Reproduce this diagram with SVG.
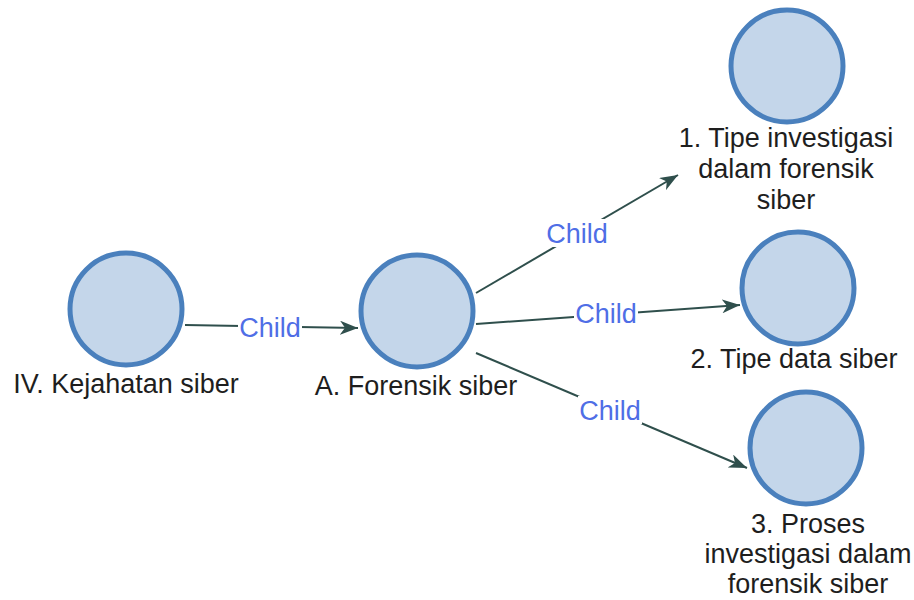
<svg xmlns="http://www.w3.org/2000/svg" width="914" height="600" viewBox="0 0 914 600">
  <style>
    .node circle { fill: #c4d6ea; stroke: #4a80bd; stroke-width: 5; }
    .node text { font-family: "Liberation Sans", Arial, sans-serif; font-size: 27px; fill: #1e1e1e; text-anchor: middle; }
    .edge line { stroke: #2f4f4c; stroke-width: 2; marker-end: url(#arrow); }
    .edge rect { fill: #fff; }
    .edge text { font-family: "Liberation Sans", Arial, sans-serif; font-size: 27px; fill: #4f6ee6; text-anchor: middle; }
  </style>
  <defs>
    <marker id="arrow" viewBox="0 0 18 14" refX="18" refY="7" markerWidth="18" markerHeight="14" markerUnits="userSpaceOnUse" orient="auto">
      <path d="M0,0 L18,7 L0,14 L5,7 z" fill="#2f4f4c"/>
    </marker>
  </defs>
  <rect width="914" height="600" fill="#fff"/>

  <g id="connectors">
    <g class="edge">
      <line x1="185" y1="325" x2="358" y2="328"/>
      <rect x="238" y="313" width="64" height="28"/>
      <text x="270" y="337">Child</text>
    </g>
    <g class="edge">
      <line x1="476" y1="293" x2="678" y2="175"/>
      <rect x="545" y="219" width="64" height="28"/>
      <text x="577" y="243">Child</text>
    </g>
    <g class="edge">
      <line x1="476" y1="324" x2="740" y2="305"/>
      <rect x="574" y="299" width="64" height="28"/>
      <text x="606" y="323">Child</text>
    </g>
    <g class="edge">
      <line x1="476" y1="353" x2="747" y2="468"/>
      <rect x="578" y="396" width="64" height="28"/>
      <text x="610" y="420">Child</text>
    </g>
  </g>

  <g id="node-iv" class="node">
    <circle cx="126" cy="309" r="56"/>
    <text x="126" y="393">IV. Kejahatan siber</text>
  </g>
  <g id="node-a" class="node">
    <circle cx="417" cy="311" r="56"/>
    <text x="416" y="395">A. Forensik siber</text>
  </g>
  <g id="node-1" class="node">
    <circle cx="787" cy="66" r="56"/>
    <text x="786" y="147">1. Tipe investigasi</text>
    <text x="786" y="178">dalam forensik</text>
    <text x="786" y="209">siber</text>
  </g>
  <g id="node-2" class="node">
    <circle cx="798" cy="288" r="56"/>
    <text x="794" y="368">2. Tipe data siber</text>
  </g>
  <g id="node-3" class="node">
    <circle cx="806" cy="448" r="56"/>
    <text x="808" y="533">3. Proses</text>
    <text x="808" y="563">investigasi dalam</text>
    <text x="808" y="593">forensik siber</text>
  </g>
</svg>
